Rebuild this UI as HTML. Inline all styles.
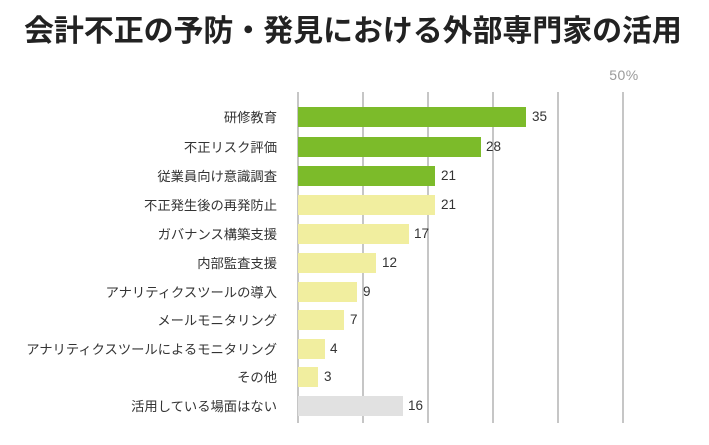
<!DOCTYPE html>
<html lang="ja">
<head>
<meta charset="utf-8">
<style>
  html, body { margin: 0; padding: 0; background: #ffffff; }
  body { width: 709px; height: 445px; position: relative; overflow: hidden;
         font-family: "Liberation Sans", "Noto Sans CJK JP", sans-serif; }
  .title { position: absolute; left: 24px; top: 12px; width: 685px; height: 32px; line-height: 32px;
           font-size: 30px; font-weight: bold; color: #222; white-space: nowrap;
           font-family: "Noto Sans CJK JP", sans-serif; letter-spacing: -0.1px; }
  .grid { position: absolute; top: 92px; height: 331px; width: 2px; background: #c6c6c6; }
  .lab { position: absolute; right: 432px; height: 20px; line-height: 21px; font-size: 13.3px;
         color: #333; white-space: nowrap; text-align: right;
         font-family: "Liberation Sans", "Noto Sans CJK JP", sans-serif; }
  .bar { position: absolute; left: 298px; height: 20px; }
  .val { position: absolute; height: 20px; line-height: 20px; font-size: 13.5px; color: #333;
         font-family: "Liberation Sans", sans-serif; }
  .g { background: #7cbb2a; }
  .y { background: #f1ee9f; }
  .n { background: #e1e1e1; }
  .pct { position: absolute; left: 604px; top: 66px; width: 40px; text-align: center; font-size: 14px;
         color: #9a9a9a; line-height: 18px; letter-spacing: 0.5px; }
</style>
</head>
<body>
<div class="title">会計不正の予防・発見における外部専門家の活用</div>
<div class="pct">50%</div>

<div class="grid" style="left:297px"></div>
<div class="grid" style="left:362px"></div>
<div class="grid" style="left:427px"></div>
<div class="grid" style="left:492px"></div>
<div class="grid" style="left:557px"></div>
<div class="grid" style="left:622px"></div>

<div class="lab" style="top:107px">研修教育</div>
<div class="bar g" style="top:107px;width:228px"></div>
<div class="val" style="top:107px;left:532px">35</div>

<div class="lab" style="top:137px">不正リスク評価</div>
<div class="bar g" style="top:137px;width:183px"></div>
<div class="val" style="top:137px;left:486px">28</div>

<div class="lab" style="top:166px">従業員向け意識調査</div>
<div class="bar g" style="top:166px;width:137px"></div>
<div class="val" style="top:166px;left:441px">21</div>

<div class="lab" style="top:195px">不正発生後の再発防止</div>
<div class="bar y" style="top:195px;width:137px"></div>
<div class="val" style="top:195px;left:441px">21</div>

<div class="lab" style="top:224px">ガバナンス構築支援</div>
<div class="bar y" style="top:224px;width:111px"></div>
<div class="val" style="top:224px;left:414px">17</div>

<div class="lab" style="top:253px">内部監査支援</div>
<div class="bar y" style="top:253px;width:78px"></div>
<div class="val" style="top:253px;left:382px">12</div>

<div class="lab" style="top:282px">アナリティクスツールの導入</div>
<div class="bar y" style="top:282px;width:59px"></div>
<div class="val" style="top:282px;left:363px">9</div>

<div class="lab" style="top:310px">メールモニタリング</div>
<div class="bar y" style="top:310px;width:46px"></div>
<div class="val" style="top:310px;left:350px">7</div>

<div class="lab" style="top:339px">アナリティクスツールによるモニタリング</div>
<div class="bar y" style="top:339px;width:27px"></div>
<div class="val" style="top:339px;left:330px">4</div>

<div class="lab" style="top:367px">その他</div>
<div class="bar y" style="top:367px;width:20px"></div>
<div class="val" style="top:367px;left:324px">3</div>

<div class="lab" style="top:396px">活用している場面はない</div>
<div class="bar n" style="top:396px;width:105px"></div>
<div class="val" style="top:396px;left:408px">16</div>
</body>
</html>
